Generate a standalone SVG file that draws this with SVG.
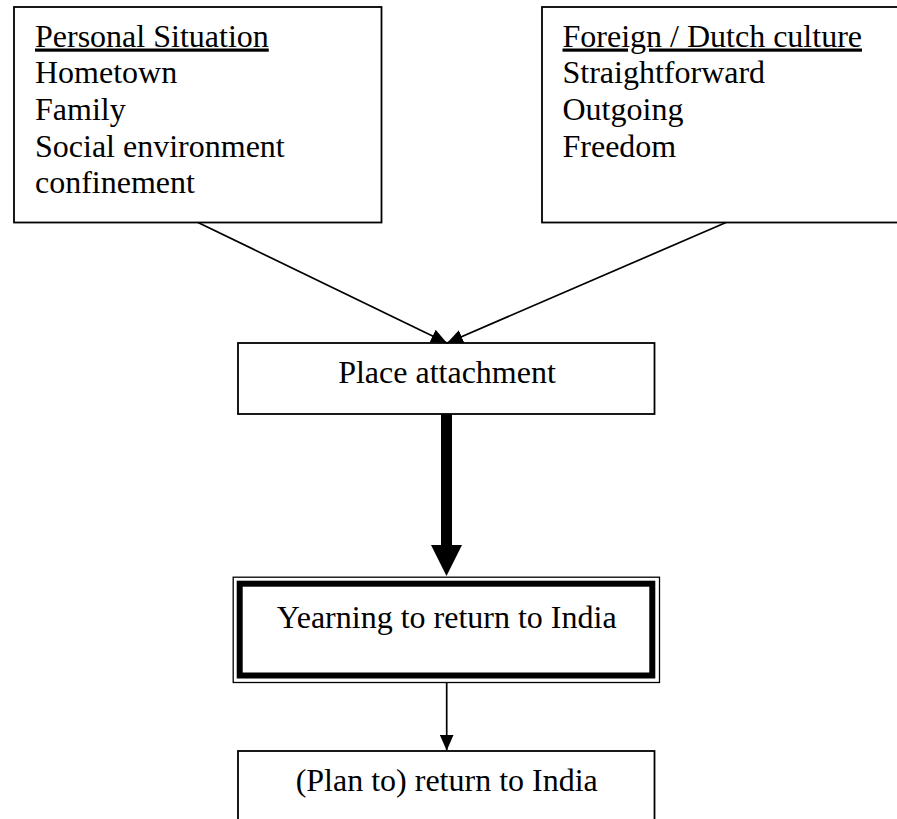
<svg xmlns="http://www.w3.org/2000/svg" width="897" height="819" viewBox="0 0 897 819">
<style>
.box{fill:#fff;stroke:#000;stroke-width:1.8}
.t{font-family:"Liberation Serif","Times New Roman",serif;font-size:32px;fill:#000}
.c{text-anchor:middle}
.u{text-decoration:underline}
.conn{stroke:#000;stroke-width:1.7;fill:none}
</style>
<defs>
<marker id="ah" viewBox="0 0 16 14" refX="16" refY="7" markerWidth="16" markerHeight="14" markerUnits="userSpaceOnUse" orient="auto">
<path d="M0,0 L16,7 L0,14 z" fill="#000"/>
</marker>
<marker id="thick" viewBox="0 0 31 31" refX="0" refY="15.5" markerWidth="31" markerHeight="31" markerUnits="userSpaceOnUse" orient="auto">
<path d="M0,0 L31,15.5 L0,31 z" fill="#000"/>
</marker>
</defs>
<rect width="897" height="819" fill="#fff"/>
<g id="personal">
<rect class="box" x="14" y="7" width="367.5" height="215.5"/>
<text class="t" x="35" y="46.5"><tspan class="u">Personal Situation</tspan><tspan x="35" y="83.3">Hometown</tspan><tspan x="35" y="120">Family</tspan><tspan x="35" y="156.7">Social environment</tspan><tspan x="35" y="193.3">confinement</tspan></text>
</g>
<g id="foreign">
<rect class="box" x="542" y="7" width="370" height="215.5"/>
<text class="t" x="562.5" y="46.5"><tspan class="u">Foreign / Dutch culture</tspan><tspan x="562.5" y="83.3">Straightforward</tspan><tspan x="562.5" y="120">Outgoing</tspan><tspan x="562.5" y="156.7">Freedom</tspan></text>
</g>
<g id="place">
<rect class="box" x="238" y="343" width="416.5" height="71"/>
<text class="t c" x="447" y="383.3">Place attachment</text>
</g>
<g id="yearning">
<rect x="233.2" y="577.2" width="426.3" height="105.3" fill="#fff" stroke="#000" stroke-width="1.3"/>
<rect x="239.7" y="583.7" width="412.6" height="91.8" fill="none" stroke="#000" stroke-width="6"/>
<text class="t c" x="446.7" y="627.7">Yearning to return to India</text>
</g>
<g id="plan">
<rect class="box" x="238" y="751" width="416.5" height="90"/>
<text class="t c" x="446.7" y="790.7">(Plan to) return to India</text>
</g>
<g id="connectors">
<line class="conn" x1="198" y1="222.5" x2="447" y2="343" marker-end="url(#ah)"/>
<line class="conn" x1="726" y1="222.5" x2="447" y2="343" marker-end="url(#ah)"/>
<line x1="446.5" y1="414" x2="446.5" y2="545" stroke="#000" stroke-width="11" marker-end="url(#thick)"/>
<line class="conn" x1="446.7" y1="683" x2="446.7" y2="750.5" marker-end="url(#ah)"/>
</g>
</svg>
